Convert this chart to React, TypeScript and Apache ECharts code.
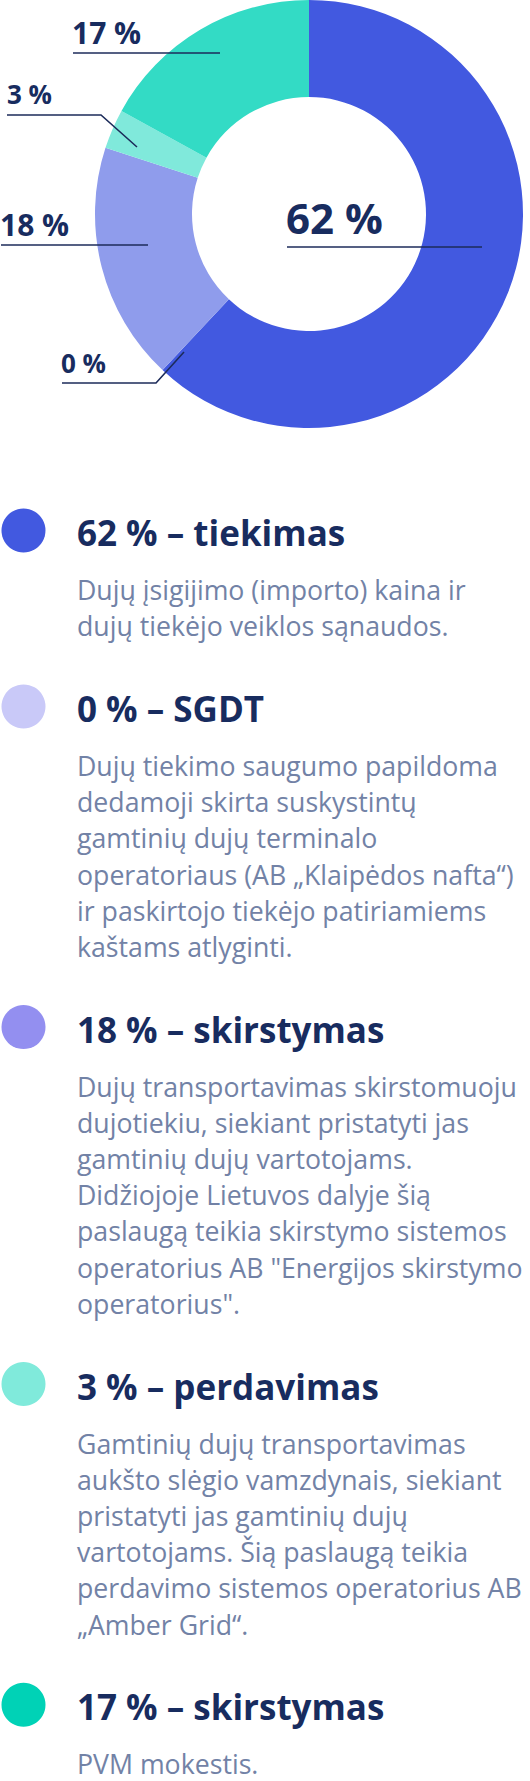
import React, { useEffect, useRef } from 'react';
import * as echarts from 'echarts';

const FONT = '"Open Sans", "Noto Sans", sans-serif';

const COLORS = {
  TITLE: '#182c5f',
  BODY: '#7282a6',
  LINE: '#1c2b5a',
};

// slices, clockwise from 12 o'clock
const NAMES = ['tiekimas', 'SGDT', 'skirstymas', 'perdavimas', 'skirstymas'];
const VALUES = [62, 0, 18, 3, 17];
const SLICE_COLORS = ['#4259e0', '#c9c9f8', '#8f9cec', '#80e9db', '#33dbc5'];
const DOT_COLORS = ['#4259e0', '#c9c9f8', '#938ff0', '#80eadb', '#00d2b6'];

const DESCRIPTIONS = [
  'Dujų įsigijimo (importo) kaina ir\ndujų tiekėjo veiklos sąnaudos.',
  'Dujų tiekimo saugumo papildoma\ndedamoji skirta suskystintų\ngamtinių dujų terminalo\noperatoriaus (AB „Klaipėdos nafta“)\nir paskirtojo tiekėjo patiriamiems\nkaštams atlyginti.',
  'Dujų transportavimas skirstomuoju\ndujotiekiu, siekiant pristatyti jas\ngamtinių dujų vartotojams.\nDidžiojoje Lietuvos dalyje šią\npaslaugą teikia skirstymo sistemos\noperatorius AB "Energijos skirstymo\noperatorius".',
  'Gamtinių dujų transportavimas\naukšto slėgio vamzdynais, siekiant\npristatyti jas gamtinių dujų\nvartotojams. Šią paslaugą teikia\nperdavimo sistemos operatorius AB\n„Amber Grid“.',
  'PVM mokestis.',
];

// where each slice label sits and how its leader runs
const LABEL_LAYOUT = [
  { x: 286, y: 217, size: 42, line: [[287, 247], [482, 247]] },
  { x: 61, y: 363, size: 26, line: [[62, 383], [156, 383], [184, 352]] },
  { x: 0, y: 224, size: 30, line: [[1, 245], [148, 245]] },
  { x: 7, y: 94, size: 26, line: [[7, 115], [101, 115], [137, 147]] },
  { x: 72, y: 32, size: 30, line: [[73, 53], [220, 53]] },
];

const W = 530;
const H = 1781;

const buildLeaders = () =>
  LABEL_LAYOUT.map((L) => ({
    type: 'polyline',
    z: 100,
    shape: { points: L.line },
    style: { stroke: COLORS.LINE, lineWidth: 1.6, fill: null },
    silent: true,
  }));

const buildLegend = () => {
  const out: any[] = [];
  let base = 546; // title baseline
  VALUES.forEach((v, i) => {
    const lines = DESCRIPTIONS[i].split('\n').length;
    out.push({
      type: 'circle',
      shape: { cx: 23.5, cy: base - 15.5, r: 22 },
      style: { fill: DOT_COLORS[i] },
      silent: true,
    });
    out.push({
      type: 'text',
      x: 77,
      y: base - 13.5,
      style: {
        text: `${v} % – ${NAMES[i]}`,
        fill: COLORS.TITLE,
        fontFamily: FONT,
        fontWeight: 'bold',
        fontSize: 35,
        align: 'left',
        verticalAlign: 'middle',
      },
      silent: true,
    });
    out.push({
      type: 'text',
      x: 77,
      y: base + 54 - 28.5,
      style: {
        text: DESCRIPTIONS[i],
        fill: COLORS.BODY,
        fontFamily: FONT,
        fontSize: 26.7,
        lineHeight: 36.2,
        align: 'left',
        verticalAlign: 'top',
      },
      silent: true,
    });
    base = base + 54 + (lines - 1) * 36.2 + 85.7;
  });
  return out;
};

const App: React.FC = () => {
  const divEL = useRef(null);

  useEffect(() => {
    document.body.style.margin = '0';
    const instance = echarts.init(divEL.current as any, null, { renderer: 'svg' });

    const option: any = {
      animation: false,
      textStyle: { fontFamily: FONT },
      series: [
        {
          type: 'pie',
          center: [309, 214],
          radius: [117, 214],
          startAngle: 90,
          clockwise: true,
          avoidLabelOverlap: false,
          silent: true,
          label: {
            show: true,
            position: 'outside',
            formatter: '{c} %',
            color: COLORS.TITLE,
            fontFamily: FONT,
            fontWeight: 'bold',
          },
          labelLine: { show: false },
          labelLayout: (params: any) => {
            const L = LABEL_LAYOUT[params.dataIndex];
            return {
              x: L.x,
              y: L.y,
              align: 'left',
              verticalAlign: 'middle',
              fontSize: L.size,
            };
          },
          data: VALUES.map((v, i) => ({
            name: NAMES[i],
            value: v,
            itemStyle: { color: SLICE_COLORS[i] },
            label: { fontSize: LABEL_LAYOUT[i].size },
          })),
        },
      ],
      graphic: [...buildLeaders(), ...buildLegend()],
    };
    instance.setOption(option);

    return () => {
      instance.dispose();
    };
  }, []);

  return <div ref={divEL} style={{ width: W, height: H }}></div>;
};

export default App;
